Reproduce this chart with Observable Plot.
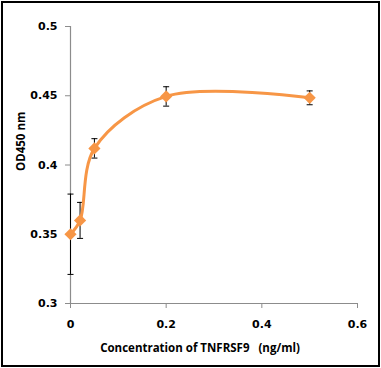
<!DOCTYPE html>
<html>
<head>
<meta charset="utf-8">
<script src="https://cdn.jsdelivr.net/npm/d3@7"></script>
<script src="https://cdn.jsdelivr.net/npm/@observablehq/plot@0.6"></script>
<style>
  html, body { margin: 0; padding: 0; background: #fff; }
  #chart svg { display: block; outline: 2px solid #000; outline-offset: -3px; }
</style>
</head>
<body>
<div id="chart"></div>
<script>
const concentration = [0, 0.02, 0.05, 0.2, 0.5];
const od450 = [0.350, 0.360, 0.412, 0.4495, 0.4485];
const errorHalf = [0.029, 0.013, 0.007, 0.007, 0.005];
const xTicks = [0, 0.2, 0.4, 0.6];
const yTicks = [0.3, 0.35, 0.4, 0.45, 0.5];
const xLabel = "Concentration of TNFRSF9   (ng/ml)";
const yLabel = "OD450 nm";

const data = concentration.map((c, i) => ({
  x: c, y: od450[i], lo: od450[i] - errorHalf[i], hi: od450[i] + errorHalf[i]
}));

const orange = "#F79646";
const axisGray = "#8c8c8c";
const tickFont = "DejaVu Sans, Verdana, sans-serif";

const capSymbol = {
  draw(context, size) {
    const w = Math.sqrt(size) / 2;
    context.moveTo(-w, 0);
    context.lineTo(w, 0);
  }
};

const chart = Plot.plot({
  width: 381,
  height: 368,
  marginLeft: 70,
  marginRight: 24,
  marginTop: 26,
  marginBottom: 65,
  style: { background: "#fff", fontFamily: tickFont, overflow: "visible" },
  x: { domain: [0, 0.6] },
  y: { domain: [0.3, 0.5] },
  marks: [
    Plot.axisY({ ticks: yTicks, tickSize: 5, tickPadding: 8, stroke: axisGray, tickFormat: d => String(+d.toFixed(2)), fill: "#000", fontSize: 11, fontWeight: "bold", label: null }),
    Plot.axisX({ ticks: xTicks, tickSize: 5, tickPadding: 12, stroke: axisGray, tickFormat: d => String(+d.toFixed(1)), fill: "#000", fontSize: 11, fontWeight: "bold", label: null }),
    Plot.ruleX([0], { stroke: axisGray, strokeWidth: 1.2 }),
    Plot.ruleY([0.3], { stroke: axisGray, strokeWidth: 1.2 }),
    Plot.ruleX(data, { x: "x", y1: "lo", y2: "hi", stroke: "#000", strokeWidth: 1 }),
    Plot.dot(data, { x: "x", y: "lo", symbol: capSymbol, r: 3.4, stroke: "#000", strokeWidth: 1 }),
    Plot.dot(data, { x: "x", y: "hi", symbol: capSymbol, r: 3.4, stroke: "#000", strokeWidth: 1 }),
    Plot.line(data, { x: "x", y: "y", curve: "catmull-rom", stroke: orange, strokeWidth: 3 }),
    Plot.dot(data, { x: "x", y: "y", symbol: "diamond2", r: 5.5, fill: orange, stroke: "none" }),
    Plot.text([xLabel], { frameAnchor: "bottom", dx: -14, dy: 48, fontFamily: "Open Sans, sans-serif", fontSize: 11.5, fontWeight: "bold", fill: "#000" }),
    Plot.text([yLabel], { frameAnchor: "left", rotate: -90, dx: -49, dy: 6, fontFamily: "Open Sans, sans-serif", fontSize: 11.5, fontWeight: "bold", fill: "#000" })
  ]
});

document.getElementById("chart").appendChild(chart);
</script>
</body>
</html>
